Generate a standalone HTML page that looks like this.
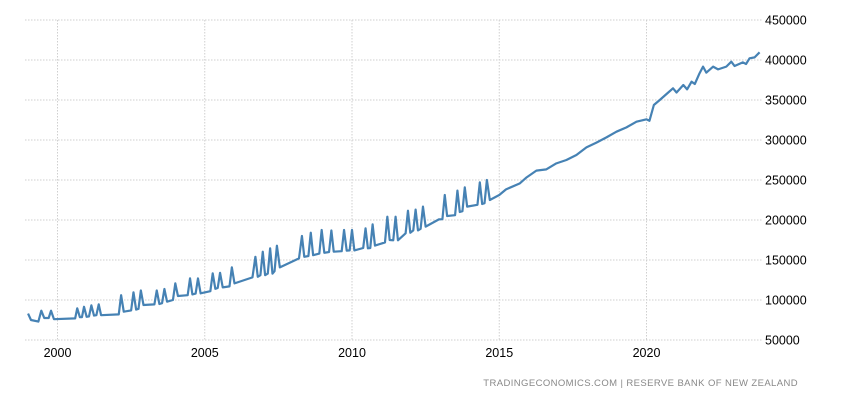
<!DOCTYPE html>
<html><head><meta charset="utf-8"><style>
html,body{margin:0;padding:0;background:#fff;width:850px;height:400px;overflow:hidden;}
svg{display:block;font-family:"Liberation Sans",Arial,sans-serif;}
</style></head><body>
<svg id="chart" width="850" height="400" viewBox="0 0 850 400" xmlns="http://www.w3.org/2000/svg">
<g id="grid"></g>
<g id="yaxis"></g>
<g id="xaxis"></g>
<path id="line" fill="none" stroke="#4682b4" stroke-width="2.2" stroke-linejoin="round"/>
<text x="798" y="386" text-anchor="end" font-size="9.5" fill="#888" letter-spacing="0.4">TRADINGECONOMICS.COM | RESERVE BANK OF NEW ZEALAND</text>
</svg>
<script>
const yTicks=[50000,100000,150000,200000,250000,300000,350000,400000,450000];
const xTicks=[2000,2005,2010,2015,2020];
const dates=[1999.0,1999.1,1999.35,1999.45,1999.55,1999.7,1999.78,1999.88,2000.6,2000.67,2000.76,2000.83,2000.9,2000.99,2001.07,2001.15,2001.24,2001.32,2001.4,2001.48,2002.08,2002.16,2002.25,2002.5,2002.58,2002.67,2002.75,2002.83,2002.92,2003.29,2003.37,2003.46,2003.55,2003.63,2003.72,2003.92,2004.0,2004.09,2004.42,2004.5,2004.58,2004.69,2004.77,2004.86,2005.19,2005.27,2005.36,2005.44,2005.52,2005.61,2005.84,2005.92,2006.01,2006.62,2006.72,2006.8,2006.89,2006.97,2007.05,2007.14,2007.22,2007.3,2007.37,2007.45,2007.55,2008.2,2008.3,2008.38,2008.52,2008.6,2008.68,2008.89,2008.97,2009.06,2009.22,2009.3,2009.38,2009.65,2009.73,2009.82,2009.92,2010.0,2010.08,2010.38,2010.46,2010.54,2010.62,2010.7,2010.78,2011.12,2011.2,2011.28,2011.4,2011.48,2011.56,2011.82,2011.9,2011.98,2012.08,2012.16,2012.24,2012.33,2012.41,2012.5,2012.95,2013.07,2013.15,2013.23,2013.5,2013.58,2013.66,2013.75,2013.83,2013.91,2014.26,2014.34,2014.42,2014.5,2014.58,2014.68,2015.0,2015.23,2015.7,2015.93,2016.26,2016.6,2016.94,2017.28,2017.62,2017.96,2018.3,2018.64,2018.98,2019.32,2019.66,2020.0,2020.1,2020.25,2020.45,2020.68,2020.9,2021.02,2021.25,2021.38,2021.53,2021.64,2021.8,2021.92,2022.03,2022.26,2022.43,2022.71,2022.88,2022.99,2023.27,2023.38,2023.5,2023.67,2023.84];
const values=[83000,75000,73000,86600,77500,77500,86600,76000,77000,89600,78500,78500,91500,79000,79500,93300,80500,81000,94600,81000,82000,106000,85400,87000,109600,88000,89000,111900,93750,94500,111900,95000,96000,113750,97900,100000,120800,105000,106000,127000,107000,108000,127000,108300,111000,133300,114000,115000,134000,115800,117000,140800,120800,128300,154000,129000,131000,160400,131000,133000,164600,133000,136000,167900,140800,152000,180000,154000,155000,184100,156000,158000,187500,159000,160000,186900,160400,161000,187500,161700,162000,187500,162000,165000,189600,164600,165000,194600,168000,172000,204100,175000,174600,204100,174600,183300,211600,184000,187000,213000,187000,189000,216700,191700,200800,201000,231250,205000,206000,236700,210000,211000,240800,216700,219000,247100,220000,221000,250000,225000,231250,238300,245800,253300,261700,263300,270800,275000,281250,290800,296700,303300,310400,315800,322900,325800,324000,343750,350000,357500,364600,359400,368750,363300,372900,370000,383300,391700,384200,391700,388300,391700,397900,392500,397100,395000,402100,403300,409600];
const NS='http://www.w3.org/2000/svg';
function xs(t){return 57.5+(t-2000)*29.45;}
function ys(v){return 340-(v-50000)/1250;}
const grid=document.getElementById('grid'),ya=document.getElementById('yaxis'),xa=document.getElementById('xaxis');
yTicks.forEach(v=>{
 const l=document.createElementNS(NS,'line');
 
 
 l.setAttribute('x1',25);l.setAttribute('x2',762);l.setAttribute('y1',ys(v));l.setAttribute('y2',ys(v));
 l.setAttribute('stroke','#cfcfcf');l.setAttribute('stroke-dasharray','1.5,1.5');grid.appendChild(l);
 const t=document.createElementNS(NS,'text');
 
 
 t.setAttribute('x',765);t.setAttribute('y',ys(v)+4.5);t.setAttribute('font-size','12.5');t.setAttribute('fill','#000');
 t.textContent=v;ya.appendChild(t);
});
xTicks.forEach(y=>{
 const l=document.createElementNS(NS,'line');
 
 
 l.setAttribute('x1',xs(y));l.setAttribute('x2',xs(y));l.setAttribute('y1',20);l.setAttribute('y2',340);
 l.setAttribute('stroke','#cfcfcf');l.setAttribute('stroke-dasharray','1.5,1.5');grid.appendChild(l);
 const t=document.createElementNS(NS,'text');
 
 
 t.setAttribute('x',xs(y));t.setAttribute('y',357);t.setAttribute('font-size','12.5');t.setAttribute('text-anchor','middle');t.setAttribute('fill','#000');
 t.textContent=y;xa.appendChild(t);
});
let d='';
dates.forEach((t,i)=>{d+=(i?'L':'M')+xs(t).toFixed(2)+','+ys(values[i]).toFixed(2);});
document.getElementById('line').setAttribute('d',d);
</script>
</body></html>
